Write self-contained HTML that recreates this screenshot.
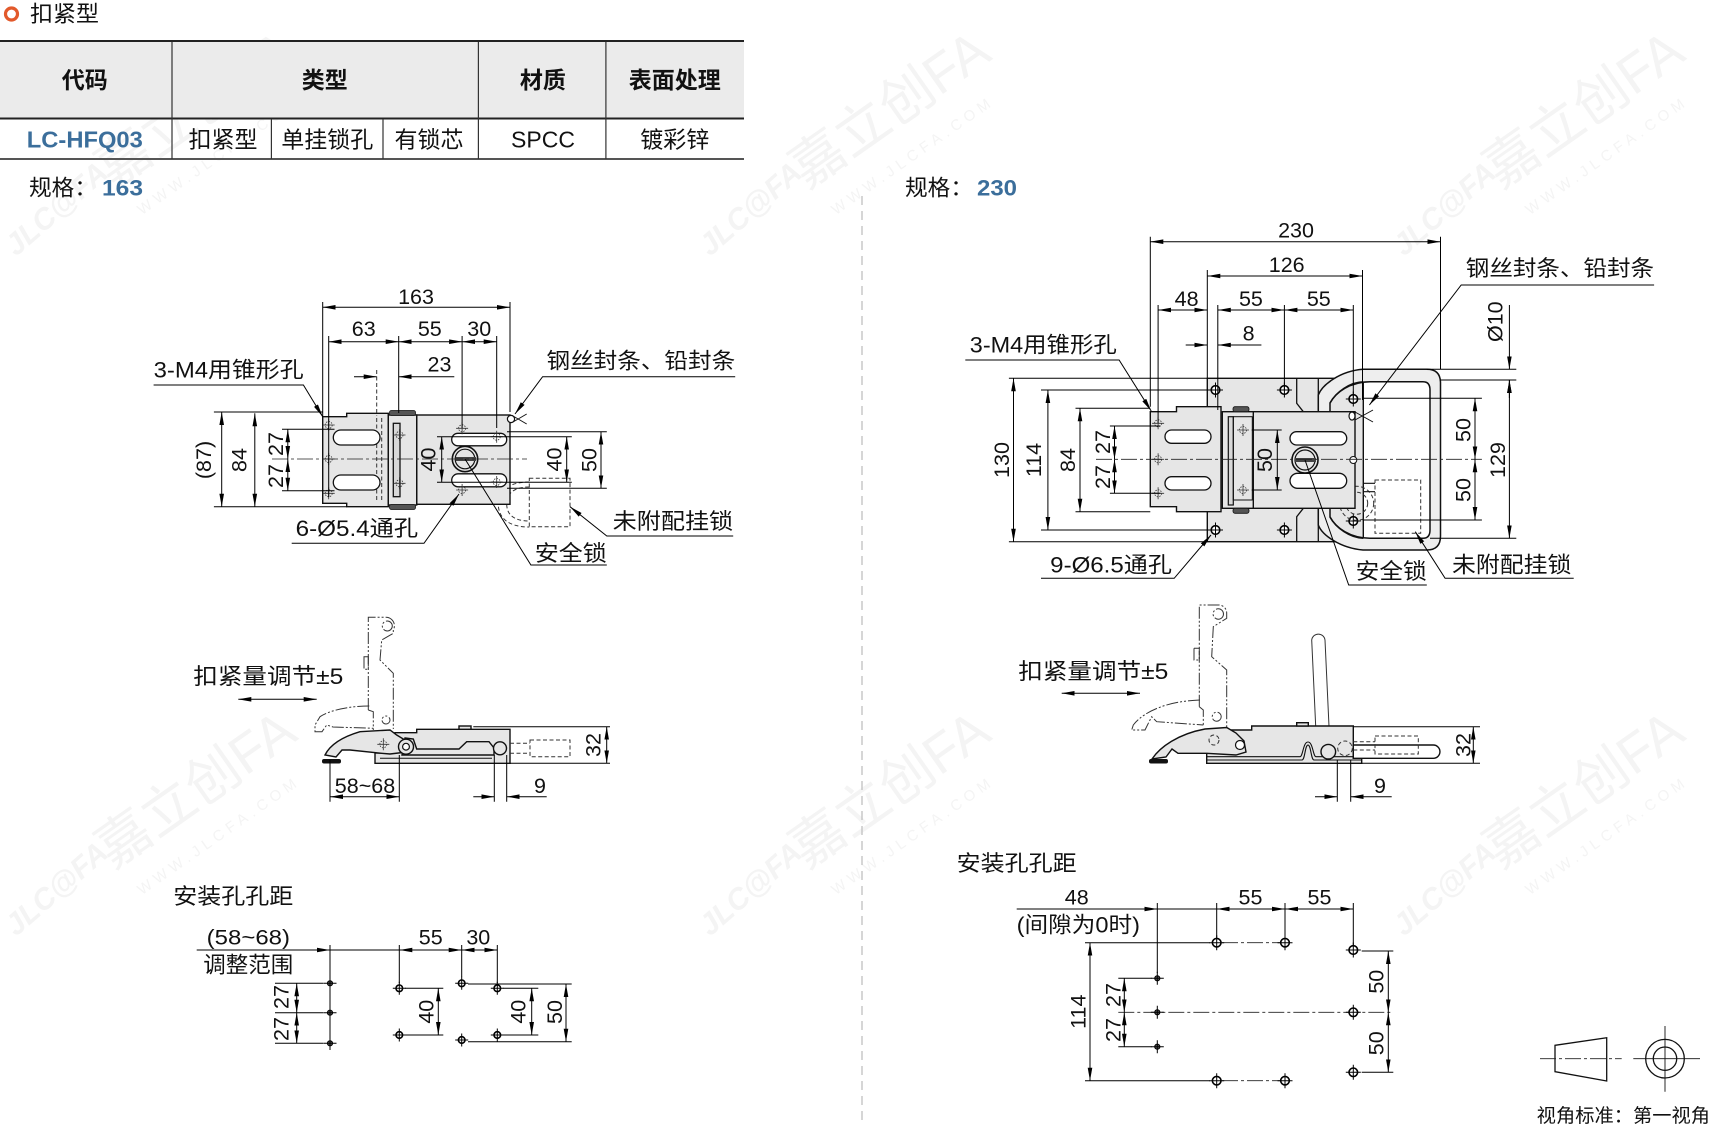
<!DOCTYPE html>
<html><head><meta charset="utf-8"><style>
html,body{margin:0;padding:0;background:#fff;}
svg{display:block;}
text{font-family:"Liberation Sans","Noto Sans CJK SC",sans-serif;fill:#111;}
.c{dominant-baseline:central;text-anchor:middle;}
.s{dominant-baseline:central;text-anchor:start;}
.n{font-size:21.5px;}
.l{font-size:22px;}
.d{stroke:#000;stroke-width:1;fill:none;}
.o{stroke:#111;stroke-width:1.4;fill:#e6e6e6;}
.w{stroke:#111;stroke-width:1.3;fill:#fff;}
.cl{stroke:#222;stroke-width:0.8;fill:none;stroke-dasharray:16 3 3 3;}
.hd{stroke:#333;stroke-width:1;fill:none;stroke-dasharray:4 2.5;}
.ph{stroke:#333;stroke-width:1;fill:none;stroke-dasharray:12 2 2 2 2 2;}
</style></head><body>
<svg width="1713" height="1129" viewBox="0 0 1713 1129" xmlns="http://www.w3.org/2000/svg">
<defs>
<marker id="ar" markerUnits="userSpaceOnUse" markerWidth="13" markerHeight="6" viewBox="0 0 13 6" refX="13" refY="3" orient="auto-start-reverse"><path d="M0,0.7 L13,3 L0,5.3 Z" fill="#000"/></marker>
<g id="cs"><circle r="3.5" fill="none" stroke="#333" stroke-width="0.8" stroke-dasharray="1.5 1.2"/><path d="M-6,0H6M0,-6V6" stroke="#333" stroke-width="0.8"/></g>
<g id="hb"><circle r="4.3" fill="#fff" stroke="#000" stroke-width="1.6"/><path d="M-7.5,0H7.5M0,-7.5V7.5" stroke="#000" stroke-width="1"/></g>
<g id="hm"><circle r="3.3" fill="#fff" stroke="#000" stroke-width="1.6"/><path d="M-6.5,0H6.5M0,-6.5V6.5" stroke="#000" stroke-width="1"/></g>
<g id="hs"><circle r="2.6" fill="#555" stroke="#000" stroke-width="1"/><path d="M-6.5,0H6.5M0,-6.5V6.5" stroke="#000" stroke-width="1"/></g>
<g id="wm" font-weight="bold">
<text transform="rotate(-41)" x="0" y="0" font-size="30" font-style="italic" style="fill:#f4f4f4">JLC@FA</text>
<text transform="rotate(-35)" x="118" y="0" font-size="54" font-weight="normal" style="fill:#f4f4f4">嘉立创FA</text>
<text transform="rotate(-35)" x="127" y="38" font-size="15" font-weight="normal" letter-spacing="5" style="fill:#f4f4f4">WWW.JLCFA.COM</text>
</g>
</defs>

<!-- watermarks -->
<use href="#wm" transform="translate(16,257)"/>
<use href="#wm" transform="translate(710,257)"/>
<use href="#wm" transform="translate(1404,257)"/>
<use href="#wm" transform="translate(16,937)"/>
<use href="#wm" transform="translate(710,937)"/>
<use href="#wm" transform="translate(1404,937)"/>

<!-- title -->
<circle cx="11.5" cy="14" r="6" fill="none" stroke="#e2592b" stroke-width="3.2"/>
<text class="s" x="30" y="14" font-size="22" textLength="69" lengthAdjust="spacingAndGlyphs">扣紧型</text>

<!-- table -->
<rect x="0" y="42" width="744" height="76" fill="#ebebeb"/>
<line x1="0" y1="41" x2="744" y2="41" stroke="#222" stroke-width="2"/>
<line x1="0" y1="118.5" x2="744" y2="118.5" stroke="#222" stroke-width="2"/>
<line x1="0" y1="159" x2="744" y2="159" stroke="#555" stroke-width="2"/>
<path d="M172,42V159M478.4,42V159M605.9,42V159M271.4,119V159M383,119V159" stroke="#333" stroke-width="1.2"/>
<g font-size="23" font-weight="bold">
<text class="c" x="84.8" y="80">代码</text>
<text class="c" x="324.7" y="80">类型</text>
<text class="c" x="542.9" y="80">材质</text>
<text class="c" x="674.7" y="80">表面处理</text>
</g>
<g font-size="23">
<text class="c" x="84.8" y="139.3" font-weight="bold" style="fill:#3b6e9b" textLength="116" lengthAdjust="spacingAndGlyphs">LC-HFQ03</text>
<text class="c" x="223" y="139.3">扣紧型</text>
<text class="c" x="327.2" y="139.3">单挂锁孔</text>
<text class="c" x="429" y="139.3">有锁芯</text>
<text class="c" x="543" y="139.3">SPCC</text>
<text class="c" x="674.7" y="139.3">镀彩锌</text>
</g>
<text class="s" x="29" y="188" font-size="22" textLength="68" lengthAdjust="spacingAndGlyphs">规格：</text>
<text class="s" x="102" y="188" font-size="22" font-weight="bold" style="fill:#3b6e9b" textLength="41" lengthAdjust="spacingAndGlyphs">163</text>
<text class="s" x="905" y="188" font-size="22" textLength="68" lengthAdjust="spacingAndGlyphs">规格：</text>
<text class="s" x="977" y="188" font-size="22" font-weight="bold" style="fill:#3b6e9b" textLength="40" lengthAdjust="spacingAndGlyphs">230</text>

<!-- divider -->
<line x1="862" y1="196" x2="862" y2="1125" stroke="#bbb" stroke-width="1.2" stroke-dasharray="9 6"/>

<!-- ================= LEFT TOP ================= -->
<path d="M529.3,482 C506,482 498.3,493 498.3,504 C498.3,516 506,527 529.3,527" class="hd"/>
<path d="M529.3,487 C512,487 506.7,495 506.7,504 C506.7,513 512,521 529.3,521" class="hd"/>
<rect x="529.3" y="478.3" width="40.7" height="48.4" class="hd"/>
<path class="o" d="M322.7,416.7H346.7V413.3H388.3V506.7H346.7V503.3H322.7Z"/>
<rect class="o" x="416.7" y="415" width="93.3" height="89.3"/>
<rect class="o" x="388.3" y="415" width="28.4" height="90"/>
<rect x="389.5" y="410.5" width="26" height="5" rx="2" fill="#555" stroke="#111" stroke-width="0.8"/>
<rect x="389.5" y="504.5" width="26" height="5" rx="2" fill="#555" stroke="#111" stroke-width="0.8"/>
<rect x="393.3" y="423.3" width="6.7" height="73.4" fill="#d8d8d8" stroke="#111" stroke-width="1.3"/>
<path d="M376.7,418V502M381.7,418V502" class="hd"/>
<rect class="w" x="333.3" y="430" width="46.7" height="15" rx="7.5"/>
<rect class="w" x="333.3" y="475" width="46.7" height="15" rx="7.5"/>
<rect class="w" x="451.7" y="433.3" width="55" height="12.5" rx="6.2"/>
<rect class="w" x="451.7" y="473.8" width="55" height="13" rx="6.5"/>
<use href="#cs" x="328.7" y="425"/><use href="#cs" x="328.7" y="459"/><use href="#cs" x="328.7" y="493.3"/>
<use href="#cs" x="399.5" y="435"/><use href="#cs" x="399.5" y="483.3"/>
<use href="#cs" x="462.1" y="428.3"/><use href="#cs" x="462.1" y="490"/>
<use href="#cs" x="496.7" y="436.7"/><use href="#cs" x="496.7" y="482"/>
<circle cx="465" cy="459" r="12.7" fill="#e6e6e6" stroke="#111" stroke-width="1.6"/>
<circle cx="465" cy="459" r="9.8" fill="#e6e6e6" stroke="#111" stroke-width="1.2"/>
<rect x="456" y="457" width="20" height="4" fill="#444"/>
<circle cx="511" cy="419" r="3.6" fill="#fff" stroke="#111" stroke-width="1.2"/>
<path d="M513,416 L526.7,424 M513,422 L526.7,414" stroke="#111" stroke-width="1"/>
<line x1="272" y1="459" x2="527" y2="459" class="cl"/>
<path class="d" d="M322.7,302V416 M510,302V412 M328.7,336V497 M398.7,336V413 M462.1,336V428 M496.7,336V428"/>
<line class="d" x1="322.7" y1="307.3" x2="510" y2="307.3" marker-start="url(#ar)" marker-end="url(#ar)"/>
<text class="c n" x="416" y="297">163</text>
<line class="d" x1="328.7" y1="341.7" x2="398.7" y2="341.7" marker-start="url(#ar)" marker-end="url(#ar)"/>
<line class="d" x1="398.7" y1="341.7" x2="462.1" y2="341.7" marker-start="url(#ar)" marker-end="url(#ar)"/>
<line class="d" x1="462.1" y1="341.7" x2="496.7" y2="341.7" marker-start="url(#ar)" marker-end="url(#ar)"/>
<text class="c n" x="363.7" y="329.2">63</text>
<text class="c n" x="429.8" y="329.2">55</text>
<text class="c n" x="479.2" y="329.2">30</text>
<line x1="376.7" y1="370" x2="376.7" y2="416" class="hd"/>
<line class="d" x1="354" y1="376.7" x2="376.7" y2="376.7" marker-end="url(#ar)"/>
<line class="d" x1="454.3" y1="376.7" x2="398.7" y2="376.7" marker-end="url(#ar)"/>
<text class="c n" x="439.5" y="364.5">23</text>
<path class="d" d="M213.9,412H322.7 M213.9,506.7H346.7 M282,429.3H334.5 M282,490.7H334.5"/>
<line class="d" x1="221.7" y1="412" x2="221.7" y2="506.7" marker-start="url(#ar)" marker-end="url(#ar)"/>
<line class="d" x1="254.8" y1="413.3" x2="254.8" y2="506.7" marker-start="url(#ar)" marker-end="url(#ar)"/>
<line class="d" x1="287.8" y1="429.3" x2="287.8" y2="459" marker-start="url(#ar)" marker-end="url(#ar)"/>
<line class="d" x1="287.8" y1="459" x2="287.8" y2="490.7" marker-start="url(#ar)" marker-end="url(#ar)"/>
<text class="c n" transform="translate(204,460) rotate(-90)">(87)</text>
<text class="c n" transform="translate(239.6,460) rotate(-90)">84</text>
<text class="c n" transform="translate(276,444) rotate(-90)">27</text>
<text class="c n" transform="translate(276,476) rotate(-90)">27</text>
<path class="d" d="M437,436.7H571.8 M437,482.3H571.8 M507,431.7H606.8 M507,488.3H606.8"/>
<line class="d" x1="441.7" y1="436.7" x2="441.7" y2="482.3" marker-start="url(#ar)" marker-end="url(#ar)"/>
<text class="c n" transform="translate(428.5,459.5) rotate(-90)">40</text>
<line class="d" x1="566.7" y1="436.7" x2="566.7" y2="482.3" marker-start="url(#ar)" marker-end="url(#ar)"/>
<text class="c n" transform="translate(554.3,459.5) rotate(-90)">40</text>
<line class="d" x1="601" y1="431.7" x2="601" y2="488.3" marker-start="url(#ar)" marker-end="url(#ar)"/>
<text class="c n" transform="translate(589.3,460) rotate(-90)">50</text>
<path class="d" d="M153.6,385H303.4L322.7,416.7" marker-end="url(#ar)"/>
<text class="s l" x="153.6" y="370" textLength="150" lengthAdjust="spacingAndGlyphs">3-M4用锥形孔</text>
<path class="d" d="M735.2,376.7H542.6L515,414" marker-end="url(#ar)"/>
<text class="s l" x="546.5" y="361" textLength="188.7" lengthAdjust="spacingAndGlyphs">钢丝封条、铅封条</text>
<path class="d" d="M291.7,543.3H424L459,494" marker-end="url(#ar)"/>
<text class="s l" x="295.6" y="528.3" textLength="122.5" lengthAdjust="spacingAndGlyphs">6-Ø5.4通孔</text>
<path class="d" d="M606.8,565H530.9L465,459"/>
<text class="s l" x="534.8" y="553.3" textLength="72" lengthAdjust="spacingAndGlyphs">安全锁</text>
<path class="d" d="M733.2,536H606.8L570,506.7" marker-end="url(#ar)"/>
<text class="s l" x="612.6" y="521.7" textLength="120.6" lengthAdjust="spacingAndGlyphs">未附配挂锁</text>

<!-- ================= LEFT SIDE VIEW ================= -->
<text class="s l" x="193.3" y="676.7" textLength="150" lengthAdjust="spacingAndGlyphs">扣紧量调节±5</text>
<line class="d" x1="238.3" y1="699.3" x2="316.7" y2="699.3" marker-start="url(#ar)" marker-end="url(#ar)"/>
<path class="ph" d="M368.3,710V617.3H386 A8.5,8.5 0 0 1 393.3,630 V633.3 L381.7,640 L380,660 L393.3,673.3 V729 M368.3,710 L373.3,711.7 V730"/>
<circle cx="387.3" cy="626" r="5" class="ph"/>
<circle cx="386" cy="720" r="4" class="ph"/>
<rect x="364" y="656.7" width="4.3" height="12.6" class="ph"/>
<path class="ph" d="M369.3,706 C350,706 330,710 320,716.7 L315,725 L315,731.7 H322 L326.7,725 L333,727 L373.3,728.3"/>
<path class="o" d="M375,763.3V753H395V732.7H416.7V729.3H510V763.3Z"/>
<rect x="459" y="726" width="12" height="3.3" class="o"/>
<path class="o" d="M325,755 C330,745 342,737 360,731.7 L390,730 L396.7,735 L405,740 L407,752 L390,754 L381.7,753.3 L350,750 L342,750 L336,757 Z"/>
<rect x="322" y="759" width="19" height="4.5" rx="2" fill="#111"/>
<path class="o" d="M405,738 L413.3,739 L416.7,749 H459 L466.7,741.7 H489 L494,748 V755 H402 Z"/>
<circle cx="406" cy="746.7" r="7.5" class="o"/>
<circle cx="406" cy="746.7" r="3.4" fill="#fff" stroke="#111" stroke-width="1.2"/>
<circle cx="500" cy="748.3" r="6.5" class="o"/>
<use href="#cs" x="383.3" y="744.3"/>
<path d="M380,758.3H492" stroke="#111" stroke-width="1"/>
<rect x="530" y="740" width="40" height="16.7" class="hd"/>
<path d="M510,743.3H530M510,753.3H530" class="hd"/>
<path class="d" d="M473.3,726.7H610 M510,763.3H610 M330,760V801.7 M399.3,755V801.7 M494.3,755V801.7 M506.7,755V801.7"/>
<line class="d" x1="606.7" y1="726.7" x2="606.7" y2="763.3" marker-start="url(#ar)" marker-end="url(#ar)"/>
<text class="c n" transform="translate(593.3,745) rotate(-90)">32</text>
<line class="d" x1="330" y1="796.7" x2="399.3" y2="796.7" marker-start="url(#ar)" marker-end="url(#ar)"/>
<text class="c n" x="365" y="786">58~68</text>
<line class="d" x1="473.3" y1="796.7" x2="494.3" y2="796.7" marker-end="url(#ar)"/>
<line class="d" x1="546.7" y1="796.7" x2="506.7" y2="796.7" marker-end="url(#ar)"/>
<text class="c n" x="540" y="786">9</text>

<!-- ================= LEFT BOTTOM ================= -->
<text class="s l" x="173.3" y="896.7" textLength="120" lengthAdjust="spacingAndGlyphs">安装孔孔距</text>
<text class="s n" x="206.7" y="937.5" textLength="83.3" lengthAdjust="spacingAndGlyphs">(58~68)</text>
<text class="s l" x="203.3" y="965" textLength="90" lengthAdjust="spacingAndGlyphs">调整范围</text>
<path class="d" d="M196.7,950H496.7 M330,945V1050 M399.3,945V983 M461.7,945V977 M497.3,945V983"/>
<line class="d" x1="316" y1="950" x2="330" y2="950" marker-end="url(#ar)"/>
<line class="d" x1="416.7" y1="950" x2="399.3" y2="950" marker-end="url(#ar)"/>
<line class="d" x1="443.3" y1="950" x2="461.7" y2="950" marker-end="url(#ar)"/>
<line class="d" x1="476" y1="950" x2="461.7" y2="950" marker-end="url(#ar)"/>
<line class="d" x1="483" y1="950" x2="497.3" y2="950" marker-end="url(#ar)"/>
<text class="c n" x="430.7" y="937.5">55</text>
<text class="c n" x="478.3" y="937.5">30</text>
<use href="#hs" x="330" y="983.3"/><use href="#hs" x="330" y="1012.7"/><use href="#hs" x="330" y="1043.3"/>
<use href="#hm" x="399.3" y="988.3"/><use href="#hm" x="399.3" y="1035"/>
<use href="#hm" x="461.7" y="983.3"/><use href="#hm" x="461.7" y="1040"/>
<use href="#hm" x="497.3" y="988.3"/><use href="#hm" x="497.3" y="1035"/>
<path class="d" d="M275,983.3H323.3 M275,1012.7H323.3 M275,1043.3H323.3 M405,988.3H443.3 M405,1035H443.3 M503.3,988.3H538.3 M503.3,1035H538.3 M468,984H571.7 M468,1041.7H571.7"/>
<line class="d" x1="296.7" y1="983.3" x2="296.7" y2="1012.7" marker-start="url(#ar)" marker-end="url(#ar)"/>
<line class="d" x1="296.7" y1="1012.7" x2="296.7" y2="1043.3" marker-start="url(#ar)" marker-end="url(#ar)"/>
<text class="c n" transform="translate(281.7,997) rotate(-90)">27</text>
<text class="c n" transform="translate(281.7,1029) rotate(-90)">27</text>
<line class="d" x1="438.3" y1="988.3" x2="438.3" y2="1035" marker-start="url(#ar)" marker-end="url(#ar)"/>
<text class="c n" transform="translate(426.7,1011.7) rotate(-90)">40</text>
<line class="d" x1="531.7" y1="988.3" x2="531.7" y2="1035" marker-start="url(#ar)" marker-end="url(#ar)"/>
<text class="c n" transform="translate(518.3,1011.7) rotate(-90)">40</text>
<line class="d" x1="566" y1="984" x2="566" y2="1041.7" marker-start="url(#ar)" marker-end="url(#ar)"/>
<text class="c n" transform="translate(555,1012) rotate(-90)">50</text>

<!-- ================= RIGHT TOP ================= -->
<rect class="o" x="1207.3" y="378.3" width="156" height="163.4"/>
<path d="M1296.7,378.3V403.3L1303.3,411.7 M1318.3,378.3V410 M1303.3,508.3L1296.7,516.7V541.7 M1318.3,508.3V541.7" stroke="#111" stroke-width="1.3" fill="none"/>
<use href="#hb" x="1215.5" y="390"/><use href="#hb" x="1284.4" y="390"/>
<use href="#hb" x="1215.5" y="530"/><use href="#hb" x="1284.4" y="530"/>
<path fill-rule="evenodd" fill="#eeeeee" stroke="#111" stroke-width="1.5" d="M1318.3,395 C1322,385 1340,371 1363,369.3 H1426.8 Q1440.5,369.3 1440.5,383 V536 Q1440.5,550 1426.8,550 H1363 C1340,548 1322,535 1318.3,525 Z M1330,403 C1336,392 1350,382 1370,381.7 H1423 Q1430,381.7 1430,390 V530 Q1430,538.3 1423,538.3 H1370 C1350,538 1336,528 1330,517 Z"/>
<path d="M1330,403 C1336,392 1350,382 1363.3,381.9 M1330,517 C1336,528 1350,538 1363.3,538.2" fill="none" stroke="#111" stroke-width="1.5"/>
<use href="#hb" x="1353.3" y="399"/><use href="#hb" x="1353.3" y="521"/>
<circle cx="1356.7" cy="503.3" r="17" class="hd"/>
<circle cx="1356.7" cy="503.3" r="11" class="hd"/>
<path d="M1363.3,483.3H1375 M1363.3,491.7H1375" stroke="#111" stroke-width="1.2"/>
<rect x="1375" y="480" width="45.7" height="53.3" class="hd"/>
<path class="o" d="M1150.3,411.7H1176.5V406.7H1221V511.7H1176.5V506.7H1150.3Z"/>
<rect class="o" x="1253.3" y="411.7" width="101.7" height="96.6"/>
<rect class="o" x="1222.3" y="411.7" width="31" height="96.6"/>
<rect x="1233" y="406.7" width="16" height="5" rx="2" fill="#555" stroke="#111" stroke-width="0.8"/>
<rect x="1233" y="508.3" width="16" height="5" rx="2" fill="#555" stroke="#111" stroke-width="0.8"/>
<rect x="1228.3" y="416.7" width="5" height="88.3" fill="#d8d8d8" stroke="#111" stroke-width="1.2"/>
<rect x="1233.3" y="416.7" width="19" height="83.3" fill="none" stroke="#111" stroke-width="1"/>
<use href="#cs" x="1243" y="430"/><use href="#cs" x="1243" y="490"/>
<rect class="w" x="1165" y="430" width="46" height="13.3" rx="6.6"/>
<rect class="w" x="1165" y="476.7" width="46" height="13.3" rx="6.6"/>
<rect class="w" x="1290" y="431.7" width="56.7" height="13.3" rx="6.6"/>
<rect class="w" x="1290" y="473.3" width="56.7" height="15" rx="7.5"/>
<use href="#cs" x="1158.1" y="423.3"/><use href="#cs" x="1158.1" y="459.3"/><use href="#cs" x="1158.1" y="493.3"/>
<circle cx="1305" cy="460" r="13" fill="#e6e6e6" stroke="#111" stroke-width="1.6"/>
<circle cx="1305" cy="460" r="10" fill="#e6e6e6" stroke="#111" stroke-width="1.2"/>
<rect x="1295" y="458" width="21" height="4" fill="#444"/>
<circle cx="1353.3" cy="460" r="3.5" fill="#fff" stroke="#111" stroke-width="1"/>
<ellipse cx="1352" cy="416" rx="3" ry="4" fill="#fff" stroke="#111" stroke-width="1.2"/>
<path d="M1355,412 L1373,422 M1355,420 L1373,410" stroke="#111" stroke-width="1"/>
<line x1="1096" y1="459.3" x2="1481.9" y2="459.3" class="cl"/>
<path class="d" d="M1150.3,236.7V406.7 M1440.5,236.7V369 M1207.3,270V378.3 M1362.5,270V400 M1158.1,305V423 M1217.8,305V410 M1284.4,305V390 M1353.3,305V398"/>
<line class="d" x1="1150.3" y1="241.7" x2="1440.5" y2="241.7" marker-start="url(#ar)" marker-end="url(#ar)"/>
<text class="c n" x="1296" y="230.5">230</text>
<line class="d" x1="1207.3" y1="276" x2="1362.5" y2="276" marker-start="url(#ar)" marker-end="url(#ar)"/>
<text class="c n" x="1286.7" y="264.8">126</text>
<line class="d" x1="1158.1" y1="310" x2="1207.3" y2="310" marker-start="url(#ar)" marker-end="url(#ar)"/>
<line class="d" x1="1217.8" y1="310" x2="1284.4" y2="310" marker-start="url(#ar)" marker-end="url(#ar)"/>
<line class="d" x1="1284.4" y1="310" x2="1353.3" y2="310" marker-start="url(#ar)" marker-end="url(#ar)"/>
<text class="c n" x="1186.6" y="299.2">48</text>
<text class="c n" x="1250.9" y="299.2">55</text>
<text class="c n" x="1318.8" y="299.2">55</text>
<line class="d" x1="1185.7" y1="345" x2="1207.3" y2="345" marker-end="url(#ar)"/>
<line class="d" x1="1261.4" y1="345" x2="1217.8" y2="345" marker-end="url(#ar)"/>
<text class="c n" x="1248.6" y="333.3">8</text>
<path class="d" d="M1008.9,378.3H1207.3 M1008.9,541.7H1207.3 M1041,390H1211 M1041,530H1211 M1075.5,408.3H1150.3 M1075.5,511.7H1150.3 M1109.9,426H1160.4 M1109.9,493.3H1160.4"/>
<line class="d" x1="1013.5" y1="378.3" x2="1013.5" y2="541.7" marker-start="url(#ar)" marker-end="url(#ar)"/>
<text class="c n" transform="translate(1002,460) rotate(-90)">130</text>
<line class="d" x1="1047.9" y1="390" x2="1047.9" y2="530" marker-start="url(#ar)" marker-end="url(#ar)"/>
<text class="c n" transform="translate(1034,460) rotate(-90)">114</text>
<line class="d" x1="1080" y1="408.3" x2="1080" y2="511.7" marker-start="url(#ar)" marker-end="url(#ar)"/>
<text class="c n" transform="translate(1068,460) rotate(-90)">84</text>
<line class="d" x1="1114.5" y1="426" x2="1114.5" y2="459.3" marker-start="url(#ar)" marker-end="url(#ar)"/>
<line class="d" x1="1114.5" y1="459.3" x2="1114.5" y2="493.3" marker-start="url(#ar)" marker-end="url(#ar)"/>
<text class="c n" transform="translate(1103,442) rotate(-90)">27</text>
<text class="c n" transform="translate(1103,477) rotate(-90)">27</text>
<path class="d" d="M1251.7,430H1281.7 M1251.7,490H1281.7"/>
<line class="d" x1="1277.3" y1="430" x2="1277.3" y2="490" marker-start="url(#ar)" marker-end="url(#ar)"/>
<text class="c n" transform="translate(1265,460) rotate(-90)">50</text>
<path class="d" d="M1362.5,398.3H1481.9 M1362.5,520H1481.9 M1440.5,380H1516.3 M1430,538.3H1516.3 M1426.8,369.3H1516.3"/>
<line class="d" x1="1475" y1="398.3" x2="1475" y2="459.3" marker-start="url(#ar)" marker-end="url(#ar)"/>
<line class="d" x1="1475" y1="459.3" x2="1475" y2="520" marker-start="url(#ar)" marker-end="url(#ar)"/>
<text class="c n" transform="translate(1463.5,430) rotate(-90)">50</text>
<text class="c n" transform="translate(1463.5,490) rotate(-90)">50</text>
<line class="d" x1="1509.4" y1="380" x2="1509.4" y2="538.3" marker-start="url(#ar)" marker-end="url(#ar)"/>
<text class="c n" transform="translate(1497.9,460) rotate(-90)">129</text>
<line class="d" x1="1509.4" y1="305" x2="1509.4" y2="369.3" marker-end="url(#ar)"/>
<line class="d" x1="1509.4" y1="398" x2="1509.4" y2="380" marker-end="url(#ar)"/>
<text class="c n" transform="translate(1495.6,321.7) rotate(-90)">Ø10</text>
<path class="d" d="M965.3,360H1119.1L1151.2,411" marker-end="url(#ar)"/>
<text class="s l" x="969.8" y="345" textLength="147" lengthAdjust="spacingAndGlyphs">3-M4用锥形孔</text>
<path class="d" d="M1041,578.3H1174.2L1211,535" marker-end="url(#ar)"/>
<text class="s l" x="1050.2" y="565" textLength="121.7" lengthAdjust="spacingAndGlyphs">9-Ø6.5通孔</text>
<path class="d" d="M1426.8,585H1348.7L1305,460"/>
<text class="s l" x="1355.6" y="571.7" textLength="71.2" lengthAdjust="spacingAndGlyphs">安全锁</text>
<path class="d" d="M1573.7,578.3H1445.1L1415.3,531.7" marker-end="url(#ar)"/>
<text class="s l" x="1452" y="565" textLength="119.4" lengthAdjust="spacingAndGlyphs">未附配挂锁</text>
<path class="d" d="M1654.1,285H1461.2L1369.4,405" marker-end="url(#ar)"/>
<text class="s l" x="1465.8" y="268.3" textLength="188.3" lengthAdjust="spacingAndGlyphs">钢丝封条、铅封条</text>

<!-- ================= RIGHT SIDE VIEW ================= -->
<text class="s l" x="1018.3" y="671.7" textLength="150" lengthAdjust="spacingAndGlyphs">扣紧量调节±5</text>
<line class="d" x1="1061.7" y1="693.3" x2="1140" y2="693.3" marker-start="url(#ar)" marker-end="url(#ar)"/>
<path class="ph" d="M1199.3,706.7V605H1219 A8,8 0 0 1 1226.7,613 V618.3 L1213.3,626.7 L1211.7,656.7 L1226.7,670 V728 M1199.3,706.7 L1203.3,710 V726.7"/>
<circle cx="1218.3" cy="614" r="5.2" class="ph"/>
<circle cx="1216.7" cy="716.7" r="4.5" class="ph"/>
<rect x="1194" y="648.3" width="5.3" height="11.7" class="ph"/>
<path class="ph" d="M1200,700 C1170,701 1145,710 1133.3,725 L1131.7,730 H1145 L1148.3,723.3 L1151.7,716.7 L1156.7,721.7 L1203.3,725"/>
<path d="M1316.7,748 L1311.7,640 A6.7,6.7 0 0 1 1325,640 L1330,748" fill="none" stroke="#333" stroke-width="1"/>
<path class="o" d="M1206.7,763.3V748H1230V730H1251.7V726H1353.3V758.3H1361.7V763.3Z"/>
<rect x="1296.7" y="722.7" width="11.6" height="3.3" class="o"/>
<path d="M1206.7,756.7H1300 C1303,756.7 1303,742 1308,742 C1313,742 1313,756.7 1316,756.7 H1361.7 M1206.7,760H1302 C1305,760 1305,745 1308,745 C1311,745 1311,760 1314,760 H1361.7" fill="none" stroke="#111" stroke-width="1.1"/>
<path class="o" d="M1152,759 C1160,747 1178,734 1205,729 L1226.7,727.5 L1236,733 L1244,741 L1246,752 L1236,755 L1206.7,753.3 L1178,753.3 L1172,749 L1166,757 Z"/>
<rect x="1149" y="759" width="19" height="4.5" rx="2" fill="#111"/>
<circle cx="1240" cy="745" r="4.5" fill="#fff" stroke="#111" stroke-width="1.2"/>
<circle cx="1214" cy="740" r="5" class="hd"/>
<circle cx="1328.3" cy="751.7" r="7.3" class="o"/>
<circle cx="1345" cy="748.3" r="7.3" class="hd"/>
<path class="o" d="M1353.3,745H1433.3A6.65,6.65 0 0 1 1433.3,758.3H1353.3Z" style="fill:#fff"/>
<rect x="1375" y="736" width="43.3" height="18" class="hd"/>
<path d="M1353.3,741.7H1375M1353.3,750H1375" class="hd"/>
<path class="d" d="M1353.3,726.7H1480 M1361.7,763.3H1480 M1337.3,760V801.7 M1350.7,760V801.7"/>
<line class="d" x1="1473.3" y1="726.7" x2="1473.3" y2="763.3" marker-start="url(#ar)" marker-end="url(#ar)"/>
<text class="c n" transform="translate(1463.3,745) rotate(-90)">32</text>
<line class="d" x1="1315" y1="796.7" x2="1337.3" y2="796.7" marker-end="url(#ar)"/>
<line class="d" x1="1391.7" y1="796.7" x2="1350.7" y2="796.7" marker-end="url(#ar)"/>
<text class="c n" x="1380" y="786">9</text>

<!-- ================= RIGHT BOTTOM ================= -->
<text class="s l" x="956.7" y="863.3" textLength="120" lengthAdjust="spacingAndGlyphs">安装孔孔距</text>
<text class="c n" x="1076.7" y="897.5">48</text>
<text class="s l" x="1016.7" y="925" textLength="123.3" lengthAdjust="spacingAndGlyphs">(间隙为0时)</text>
<path class="d" d="M1016.7,909H1353.3 M1157.3,903V973 M1216.7,903V940 M1285,903V940 M1353.3,903V947"/>
<line class="d" x1="1143" y1="909" x2="1157.3" y2="909" marker-end="url(#ar)"/>
<line class="d" x1="1233.3" y1="909" x2="1216.7" y2="909" marker-end="url(#ar)"/>
<line class="d" x1="1268.3" y1="909" x2="1285" y2="909" marker-end="url(#ar)"/>
<line class="d" x1="1301.7" y1="909" x2="1285" y2="909" marker-end="url(#ar)"/>
<line class="d" x1="1336.7" y1="909" x2="1353.3" y2="909" marker-end="url(#ar)"/>
<text class="c n" x="1250.5" y="897.5">55</text>
<text class="c n" x="1319.5" y="897.5">55</text>
<path class="d" d="M1085,942.7H1210 M1085,1080.7H1210 M1118.3,978.3H1151.7 M1118.3,1046.7H1151.7 M1361.7,951H1393.3 M1361.7,1072.3H1393.3"/>
<line x1="1222" y1="942.7" x2="1290" y2="942.7" class="cl"/>
<line x1="1222" y1="1080.7" x2="1290" y2="1080.7" class="cl"/>
<line x1="1118.3" y1="1012.3" x2="1393.3" y2="1012.3" class="cl"/>
<use href="#hb" x="1216.7" y="942.7"/><use href="#hb" x="1285" y="942.7"/>
<use href="#hb" x="1353.3" y="950"/><use href="#hb" x="1353.3" y="1012.3"/><use href="#hb" x="1353.3" y="1072.3"/>
<use href="#hb" x="1216.7" y="1080.7"/><use href="#hb" x="1285" y="1080.7"/>
<use href="#hs" x="1157.3" y="978.3"/><use href="#hs" x="1157.3" y="1012.3"/><use href="#hs" x="1157.3" y="1046.7"/>
<line class="d" x1="1090" y1="942.7" x2="1090" y2="1080.7" marker-start="url(#ar)" marker-end="url(#ar)"/>
<text class="c n" transform="translate(1078.3,1011.7) rotate(-90)">114</text>
<line class="d" x1="1124.3" y1="978.3" x2="1124.3" y2="1012.3" marker-start="url(#ar)" marker-end="url(#ar)"/>
<line class="d" x1="1124.3" y1="1012.3" x2="1124.3" y2="1046.7" marker-start="url(#ar)" marker-end="url(#ar)"/>
<text class="c n" transform="translate(1113.3,995) rotate(-90)">27</text>
<text class="c n" transform="translate(1113.3,1030) rotate(-90)">27</text>
<line class="d" x1="1388.3" y1="951" x2="1388.3" y2="1012.3" marker-start="url(#ar)" marker-end="url(#ar)"/>
<line class="d" x1="1388.3" y1="1012.3" x2="1388.3" y2="1072.3" marker-start="url(#ar)" marker-end="url(#ar)"/>
<text class="c n" transform="translate(1376.7,981.7) rotate(-90)">50</text>
<text class="c n" transform="translate(1376.7,1043.3) rotate(-90)">50</text>

<!-- view symbol -->
<path d="M1555,1045.3L1606.7,1037.7V1081L1555,1071.7Z" fill="none" stroke="#111" stroke-width="1.3"/>
<line x1="1540" y1="1058.7" x2="1621.7" y2="1058.7" class="cl"/>
<circle cx="1665" cy="1058.7" r="19.3" fill="none" stroke="#111" stroke-width="1.3"/>
<circle cx="1665" cy="1058.7" r="11.7" fill="none" stroke="#111" stroke-width="1.3"/>
<path d="M1633.3,1058.7H1700 M1665,1026V1091.7" stroke="#111" stroke-width="0.9"/>
<text class="s" x="1536.7" y="1116.7" font-size="19" textLength="173.3" lengthAdjust="spacingAndGlyphs">视角标准：第一视角</text>
</svg>
</body></html>
